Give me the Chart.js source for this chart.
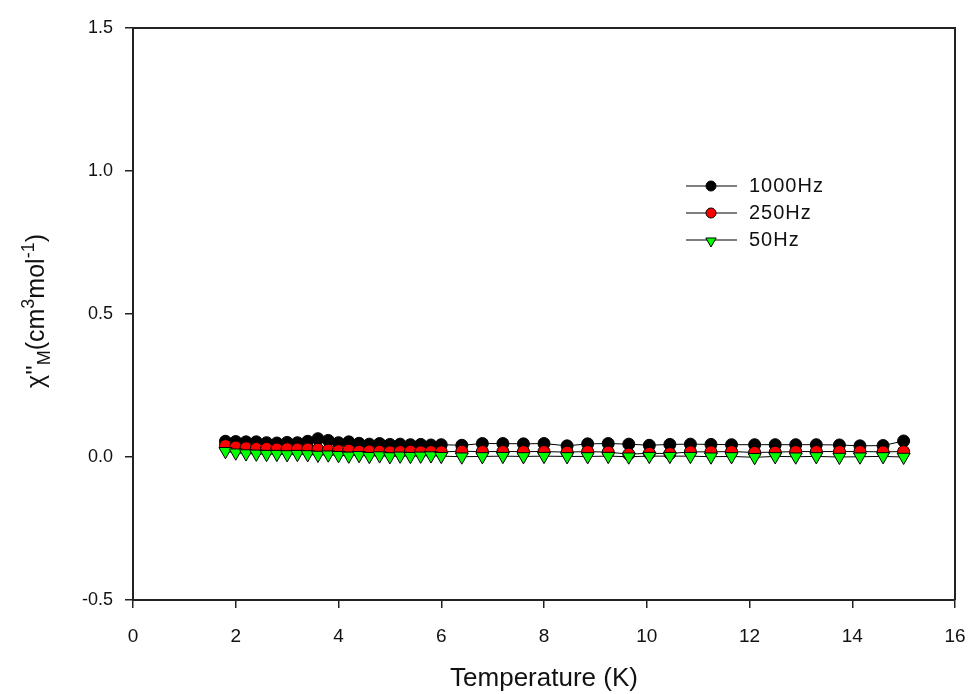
<!DOCTYPE html>
<html><head><meta charset="utf-8">
<script src="https://cdn.jsdelivr.net/npm/chart.js@4"></script>
<style>html,body{margin:0;padding:0;background:#fff}#wrap{width:968px;height:694px;position:relative}</style>
</head><body><div id="wrap"><canvas id="c" width="968" height="694"></canvas></div>
<script>
const temperatures = [1.8,2.0,2.2,2.4,2.6,2.8,3.0,3.2,3.4,3.6,3.8,4.0,4.2,4.4,4.6,4.8,5.0,5.2,5.4,5.6,5.8,6.0,
  6.4,6.8,7.2,7.6,8.0,8.45,8.85,9.25,9.65,10.05,10.45,10.85,11.25,11.65,12.1,12.5,12.9,13.3,13.75,14.15,14.6,15.0];
const chi1000 = [0.055,0.054,0.053,0.053,0.050,0.049,0.051,0.050,0.055,0.064,0.058,0.050,0.053,0.048,0.045,0.047,0.044,0.045,0.043,0.044,0.042,0.043,
  0.041,0.047,0.047,0.046,0.047,0.039,0.046,0.047,0.045,0.041,0.044,0.045,0.044,0.043,0.043,0.043,0.043,0.043,0.042,0.039,0.040,0.056];
const chi250 = [0.040,0.035,0.032,0.030,0.030,0.028,0.029,0.028,0.028,0.027,0.024,0.022,0.024,0.020,0.021,0.020,0.018,0.019,0.020,0.018,0.019,0.018,
  0.020,0.019,0.019,0.019,0.019,0.017,0.019,0.017,0.010,0.013,0.012,0.018,0.018,0.019,0.016,0.017,0.019,0.019,0.019,0.019,0.018,0.019];
const chi50 = [0.020,0.015,0.012,0.011,0.010,0.010,0.009,0.010,0.009,0.007,0.008,0.006,0.004,0.006,0.003,0.005,0.002,0.004,0.003,0.004,0.005,0.003,
  0.001,0.002,0.003,0.002,0.003,0.002,0.002,0.003,0.001,0.003,0.003,0.003,0.001,0.002,-0.001,0.002,0.001,0.002,0.000,0.001,0.002,0.000];
const seriesLabels = ['1000Hz','250Hz','50Hz'];
const xTickValues = [0,2,4,6,8,10,12,14,16];
const yTickValues = [-0.5,0.0,0.5,1.0,1.5];
const xTitle = 'Temperature (K)';

const FONT = '"Liberation Sans", Arial, sans-serif';
const pts = arr => temperatures.map((t,i)=>({x:t,y:arr[i]}));

const datasets = [
  {label:seriesLabels[0], data:pts(chi1000), borderColor:'#000', borderWidth:1, pointStyle:'circle', pointRadius:6,
   pointBackgroundColor:'#000', pointBorderColor:'#000', pointBorderWidth:1, order:3},
  {label:seriesLabels[1], data:pts(chi250), borderColor:'#000', borderWidth:1, pointStyle:'circle', pointRadius:6,
   pointBackgroundColor:'#ff0000', pointBorderColor:'#000', pointBorderWidth:1, order:2},
  {label:seriesLabels[2], data:pts(chi50), borderColor:'#000', borderWidth:1, pointStyle:'triangle', pointRotation:180, pointRadius:7.5,
   pointBackgroundColor:'#00ff00', pointBorderColor:'#000', pointBorderWidth:1, order:1}
];

const framePlugin = {
  id:'frame',
  beforeDatasetsDraw(chart){
    const {ctx, chartArea:a} = chart;
    ctx.save();
    ctx.strokeStyle = '#222'; ctx.lineWidth = 2;
    ctx.beginPath();
    ctx.moveTo(a.left, a.top); ctx.lineTo(a.right, a.top); ctx.lineTo(a.right, a.bottom);
    ctx.stroke();
    ctx.restore();
  }
};

const yTitlePlugin = {
  id:'ytitle',
  afterDraw(chart){
    const ctx = chart.ctx;
    const a = chart.chartArea;
    const parts = [
      {t:'\u03C7\'\'', s:25, dy:0},
      {t:'M', s:18, dy:6},
      {t:'(cm', s:25, dy:0},
      {t:'3', s:18, dy:-10},
      {t:'mol', s:25, dy:0},
      {t:'-1', s:18, dy:-10},
      {t:')', s:25, dy:0}
    ];
    ctx.save();
    let total = 0;
    parts.forEach(p=>{ ctx.font = p.s+'px '+FONT; p.w = ctx.measureText(p.t).width; total += p.w; });
    ctx.translate(44, (a.top+a.bottom)/2 - 3);
    ctx.rotate(-Math.PI/2);
    ctx.fillStyle = '#111';
    ctx.textBaseline = 'alphabetic';
    let x = -total/2;
    parts.forEach(p=>{ ctx.font = p.s+'px '+FONT; ctx.fillText(p.t, x, p.dy); x += p.w; });
    ctx.restore();
  }
};

const legendPlugin = {
  id:'customLegend',
  afterDraw(chart){
    const ctx = chart.ctx;
    const rows = [186, 213, 240];
    chart.data.datasets.forEach((ds,i)=>{
      const y = rows[i];
      ctx.save();
      ctx.strokeStyle = '#000'; ctx.lineWidth = 1.2;
      ctx.beginPath(); ctx.moveTo(686,y); ctx.lineTo(737,y); ctx.stroke();
      ctx.fillStyle = ds.pointBackgroundColor; ctx.strokeStyle = '#000'; ctx.lineWidth = 1;
      const tri = ds.pointStyle==='triangle';
      Chart.helpers.drawPoint(ctx, {pointStyle:ds.pointStyle, rotation:ds.pointRotation||0, radius:tri?6:5, borderWidth:1},
        711, tri? y+1 : y);
      ctx.fillStyle = '#111';
      ctx.font = '20px '+FONT;
      ctx.letterSpacing = '1px';
      ctx.textBaseline = 'middle'; ctx.textAlign = 'left';
      ctx.fillText(ds.label, 749, y);
      ctx.restore();
    });
  }
};

new Chart(document.getElementById('c'), {
  type:'line',
  data:{datasets},
  options:{
    responsive:false, devicePixelRatio:1, animation:false,
    layout:{padding:{top:28, right:13, left:0, bottom:0}},
    plugins:{legend:{display:false}, tooltip:{enabled:false}},
    elements:{line:{tension:0}},
    scales:{
      x:{type:'linear', min:0, max:16,
        afterBuildTicks(s){ s.ticks = xTickValues.map(v=>({value:v})); },
        afterFit(s){ s.height = 94; s.paddingRight = 0; s.paddingLeft = 0; },
        ticks:{font:{size:19, family:FONT}, color:'#111', padding:17, maxRotation:0,
          callback:v=>String(v)},
        grid:{drawOnChartArea:false, drawTicks:true, tickLength:8, color:'#222', lineWidth:1.5},
        border:{display:true, color:'#222', width:2},
        title:{display:true, text:xTitle, font:{size:26, family:FONT}, color:'#111', padding:{top:0,bottom:0}}
      },
      y:{type:'linear', min:-0.5, max:1.5,
        afterBuildTicks(s){ s.ticks = yTickValues.map(v=>({value:v})); },
        afterFit(s){ s.width = 133; s.paddingTop = 0; s.paddingBottom = 0; },
        ticks:{font:{size:18, family:FONT}, color:'#111', padding:12,
          callback:v=>Number(v).toFixed(1)},
        grid:{drawOnChartArea:false, drawTicks:true, tickLength:8, color:'#222', lineWidth:1.5},
        border:{display:true, color:'#222', width:2}
      }
    }
  },
  plugins:[framePlugin, yTitlePlugin, legendPlugin]
});
</script></body></html>
